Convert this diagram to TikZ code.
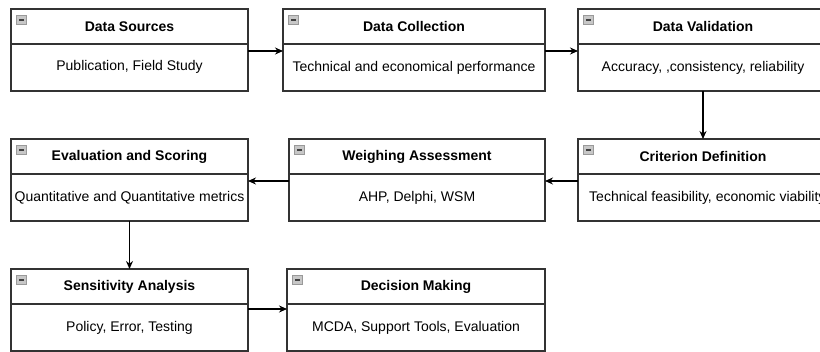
\documentclass[tikz,border=0pt]{standalone}
\usepackage{fontspec}
\setmainfont{Liberation Sans}
\usetikzlibrary{arrows.meta,positioning}

\begin{document}
\begin{tikzpicture}[x=1pt, y=-1pt, >={Stealth[length=8pt,width=7pt]},
	head/.style={draw=black!80, line width=1.1pt, minimum height=35pt, inner sep=0pt, outer sep=0pt, font=\bfseries\fontsize{14}{16}\selectfont},
	body/.style={draw=black!80, line width=1.1pt, minimum height=47pt, inner sep=0pt, outer sep=0pt, font=\fontsize{14}{16}\selectfont},
	icon/.style={draw=black!40, fill=black!22, line width=0.7pt, minimum width=10pt, minimum height=9pt, inner sep=0pt,
		path picture={\draw[black!75, line width=1.3pt] ([xshift=2.5pt]path picture bounding box.west) -- ([xshift=-2.5pt]path picture bounding box.east);}},
	flow/.style={->, line width=1.1pt, black}]
	\useasboundingbox (0,0) rectangle (820,352);

	% row one
	\node[head, minimum width=237pt] (srch) at (129.5,26.5) {Data Sources};
	\node[body, minimum width=237pt, below=0pt of srch] (srcb) {\raisebox{5pt}{Publication, Field Study}};
	\node[head, minimum width=262pt] (colh) at (414,26.5) {Data Collection};
	\node[body, minimum width=262pt, below=0pt of colh] (colb) {Technical and economical performance};
	\node[head, minimum width=250pt] (valh) at (703,26.5) {Data Validation};
	\node[body, minimum width=250pt, below=0pt of valh] (valb) {Accuracy, ,consistency, reliability};

	% row two
	\node[head, minimum width=237pt] (evah) at (129.5,156.5) {Evaluation and Scoring};
	\node[body, minimum width=237pt, below=0pt of evah] (evab) {Quantitative and Quantitative metrics};
	\node[head, minimum width=256pt] (weih) at (417,156.5) {Weighing Assessment};
	\node[body, minimum width=256pt, below=0pt of weih] (weib) {AHP, Delphi, WSM};
	\node[head, minimum width=250pt] (crih) at (703,156.5) {Criterion Definition};
	\node[body, minimum width=250pt, below=0pt of crih] (crib) {};
	\node[anchor=west, inner sep=0pt, font=\fontsize{14}{16}\selectfont] (crit) at ([xshift=11pt]crib.west) {Technical feasibility, economic viability};

	% row three
	\node[head, minimum width=237pt] (senh) at (129.5,286.5) {Sensitivity Analysis};
	\node[body, minimum width=237pt, below=0pt of senh] (senb) {Policy, Error, Testing};
	\node[head, minimum width=258pt] (dech) at (416,286.5) {Decision Making};
	\node[body, minimum width=258pt, below=0pt of dech] (decb) {MCDA, Support Tools, Evaluation};

	% collapse icons
	\foreach \b in {src,col,val,eva,wei,cri,sen,dec}
		\node[icon] (\b i) at ([xshift=10.5pt,yshift=-11pt]\b h.north west) {};

	% flow
	\draw[flow] ([yshift=-7pt]srcb.north east) -- ([yshift=-7pt]colb.north west);
	\draw[flow] ([yshift=-7pt]colb.north east) -- ([yshift=-7pt]valb.north west);
	\draw[flow] (valb.south) -- (crih.north);
	\draw[flow] ([yshift=-7pt]crib.north west) -- ([yshift=-7pt]weib.north east);
	\draw[flow] ([yshift=-7pt]weib.north west) -- ([yshift=-7pt]evab.north east);
	\draw[flow] (evab.south) -- (senh.north);
	\draw[flow] ([yshift=-5pt]senb.north east) -- ([yshift=-5pt]decb.north west);
\end{tikzpicture}
\end{document}
